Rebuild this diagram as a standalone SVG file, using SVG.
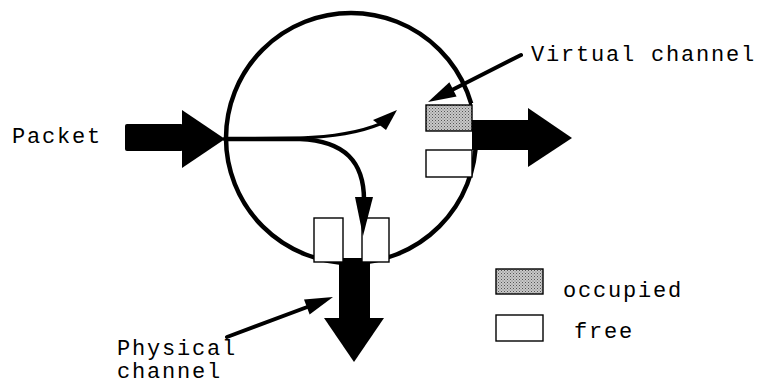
<svg xmlns="http://www.w3.org/2000/svg" width="760" height="384" viewBox="0 0 760 384">
  <style>
    .lbl { font-family: "Liberation Mono", "Courier New", monospace; font-size: 22px; letter-spacing: 1.8px; fill: #000; }
    .vc { stroke: #000; stroke-width: 1.4; }
    .free { fill: #fff; }
    .occ { fill: url(#stipple); }
    .fat { fill: #000; }
    .ptr { stroke: #000; stroke-width: 4; fill: none; stroke-linecap: round; }
  </style>
  <defs>
    <pattern id="stipple" width="3" height="3" patternUnits="userSpaceOnUse">
      <rect width="3" height="3" fill="#c8c8c8"/>
      <rect x="0" y="0" width="1" height="1" fill="#555"/>
      <rect x="1.5" y="1.5" width="1" height="1" fill="#777"/>
    </pattern>
  </defs>

  <rect width="760" height="384" fill="#fff"/>

  <!-- router -->
  <g id="router">
    <circle cx="351" cy="138" r="125" fill="none" stroke="#000" stroke-width="4.5"/>
    <rect x="472" y="103" width="8" height="30" fill="#fff"/>
  </g>

  <!-- link arrows -->
  <g id="input-link">
    <rect class="fat" x="125" y="124" width="58" height="27" rx="2"/>
    <polygon class="fat" points="182,110 182,168 225,139"/>
  </g>
  <g id="output-link-east">
    <rect class="fat" x="472" y="120" width="57" height="30"/>
    <polygon class="fat" points="528,108 528,167 572,138"/>
  </g>
  <g id="output-link-south">
    <rect class="fat" x="339" y="258" width="31" height="61"/>
    <polygon class="fat" points="324,318 384,318 354,362"/>
  </g>

  <!-- virtual channel buffers -->
  <g id="vc-east-0"><rect class="vc occ" x="426" y="105" width="46" height="26"/></g>
  <g id="vc-east-1"><rect class="vc free" x="426" y="150" width="46" height="27"/></g>
  <g id="vc-south-0"><rect class="vc free" x="314" y="218" width="29" height="44"/></g>
  <g id="vc-south-1"><rect class="vc free" x="362" y="218" width="27" height="44"/></g>

  <!-- routing paths and pointers -->
  <g id="connectors">
    <path d="M225,139 L300,138 C330,137 358,133 380,124" fill="none" stroke="#000" stroke-width="3" stroke-linecap="round"/>
    <polygon class="fat" points="397,110 373,120 386,130"/>
    <path d="M225,139 L300,139 C345,141 364,162 364,200" fill="none" stroke="#000" stroke-width="4.5" stroke-linecap="round"/>
    <polygon class="fat" points="355,197 373,197 363,236"/>
    <line class="ptr" x1="521" y1="55" x2="452" y2="90"/>
    <polygon class="fat" points="428,102 456.6,96.5 449.4,82.3"/>
    <line class="ptr" x1="227" y1="337" x2="310" y2="306"/>
    <polygon class="fat" points="333,297 309.6,314.4 304,299.4"/>
  </g>

  <!-- legend -->
  <g id="legend-occupied">
    <rect class="vc occ" x="496" y="269" width="47" height="25"/>
    <text class="lbl" x="563" y="297">occupied</text>
  </g>
  <g id="legend-free">
    <rect class="vc free" x="496" y="315" width="47" height="26"/>
    <text class="lbl" x="574" y="338">free</text>
  </g>

  <!-- labels -->
  <g id="label-packet"><text class="lbl" x="12" y="143">Packet</text></g>
  <g id="label-virtual"><text class="lbl" x="531" y="61">Virtual channel</text></g>
  <g id="label-physical">
    <text class="lbl" x="117" y="355">Physical</text>
    <text class="lbl" x="117" y="378">channel</text>
  </g>
</svg>
